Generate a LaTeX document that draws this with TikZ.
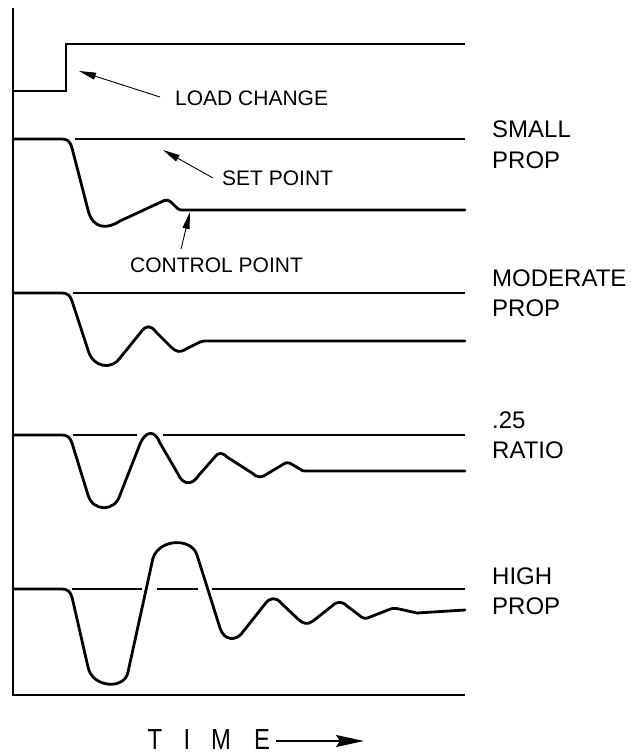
\documentclass[tikz,border=0pt]{standalone}
\usepackage{fontspec}
\setmainfont{Liberation Sans}
\usetikzlibrary{arrows.meta}
\tikzset{
  curve/.style={line width=2.8pt, line join=round, line cap=round},
  setpt/.style={line width=2.6pt},
  axisline/.style={line width=2pt},
  note/.style={font=\fontsize{21}{21}\selectfont, inner sep=0pt, anchor=west},
  side/.style={font=\fontsize{24}{24}\selectfont, inner sep=0pt, anchor=west},
  pointer/.style={line width=0.9pt, -{Triangle[length=17pt,width=7pt]}},
  timeletter/.style={font=\fontsize{29}{29}\selectfont, inner sep=0pt}
}
\begin{document}
\begin{tikzpicture}[x=1pt,y=-1pt]
\useasboundingbox (0,0) rectangle (634,755);

% axes
\coordinate (axTop) at (13,8);
\coordinate (axOrig) at (13,695);
\coordinate (axEnd) at (465,695);
\draw[axisline] (axTop) -- (axOrig) -- (axEnd);

% load change step
\draw[curve, line cap=butt, line join=miter] (13,91) -- (66,91) -- (66,44) -- (465,44);
\node[note] (lc) at (175,98) {LOAD CHANGE};
\coordinate (lcTail) at (160,97);
\coordinate (lcTip) at (79,71);
\draw[pointer] (lcTail) -- (lcTip);

% ---- small prop ----
\draw[setpt] (75,139) -- (465,139);
\draw[curve] (13,139) -- (62,139) .. controls (67,139) and (70,141) .. (72,148)
  -- (88,210) .. controls (93,230) and (108,229) .. (120,221)
  -- (161,202) .. controls (166,199) and (169,200) .. (172,203)
  -- (176,207) .. controls (179,210) and (180,210) .. (184,210) -- (465,210);
\node[note] (sp) at (222,178) {SET POINT};
\coordinate (spTail) at (213,178);
\coordinate (spTip) at (163,150);
\draw[pointer] (spTail) -- (spTip);
\node[note] (cp) at (130,265) {CONTROL POINT};
\coordinate (cpTail) at (181,249);
\coordinate (cpTip) at (190,212);
\draw[pointer] (cpTail) -- (cpTip);
\node[side] (l1a) at (492,129) {SMALL};
\node[side] (l1b) at (492,160) {PROP};

% ---- moderate prop ----
\draw[setpt] (73,293) -- (465,293);
\draw[curve] (13,293) -- (62,293) .. controls (67,293) and (70,295) .. (72,301)
  -- (88,350) .. controls (93,368) and (112,370) .. (120,358)
  -- (141,332) .. controls (146,325) and (151,325) .. (156,332)
  -- (171,347) .. controls (176,352) and (180,353) .. (186,349)
  -- (200,342) .. controls (203,341) and (204,341) .. (208,341) -- (465,341);
\node[side] (l2a) at (492,278) {MODERATE};
\node[side] (l2b) at (492,308) {PROP};

% ---- .25 ratio ----
\draw[setpt] (73,435) -- (137,435);
\draw[setpt] (163,435) -- (465,435);
\draw[curve] (13,435) -- (62,435) .. controls (67,435) and (70,437) .. (72,443)
  -- (88,495) .. controls (93,512) and (115,512) .. (120,495)
  -- (140,444) .. controls (146,430) and (155,430) .. (160,443)
  -- (178,474) .. controls (183,485) and (192,486) .. (199,475)
  -- (214,458) .. controls (218,452) and (222,452) .. (227,457)
  -- (252,473) .. controls (257,478) and (262,478) .. (267,474)
  -- (282,465) .. controls (286,462) and (289,462) .. (293,465)
  -- (300,469) .. controls (302,471) and (303,471) .. (306,471) -- (465,471);
\node[side] (l3a) at (492,420) {.25};
\node[side] (l3b) at (492,450) {RATIO};

% ---- high prop ----
\draw[setpt] (72,589) -- (142,589);
\draw[setpt] (157,589) -- (198,589);
\draw[setpt] (212,589) -- (465,589);
\draw[curve] (13,589) -- (62,589) .. controls (67,589) and (70,591) .. (72,597)
  -- (88,667) .. controls (92,688) and (125,690) .. (128,672)
  -- (153,558) .. controls (160,538) and (192,538) .. (197,555)
  -- (220,628) .. controls (224,641) and (236,641) .. (242,633)
  -- (265,604) .. controls (270,597) and (276,597) .. (281,603)
  -- (298,619) .. controls (303,624) and (308,625) .. (313,621)
  -- (332,606) .. controls (337,601) and (342,601) .. (347,606)
  -- (359,615) .. controls (363,619) and (366,619) .. (370,617)
  -- (388,610) .. controls (392,608) and (395,608) .. (399,609)
  -- (417,613) -- (465,610);
\node[side] (l4a) at (492,576) {HIGH};
\node[side] (l4b) at (492,606) {PROP};

% ---- time axis label ----
\node[timeletter] (tT) at (155,740) {\scalebox{0.82}[1]{T}};
\node[timeletter] (tI) at (187,740) {\scalebox{0.82}[1]{I}};
\node[timeletter] (tM) at (221,740) {\scalebox{0.82}[1]{M}};
\node[timeletter] (tE) at (262,740) {\scalebox{0.82}[1]{E}};
\coordinate (timeTail) at (276,741);
\coordinate (timeTip) at (364,741);
\draw[line width=1.2pt, -{Stealth[length=28pt,width=12pt,inset=4pt]}] (timeTail) -- (timeTip);
\end{tikzpicture}
\end{document}
